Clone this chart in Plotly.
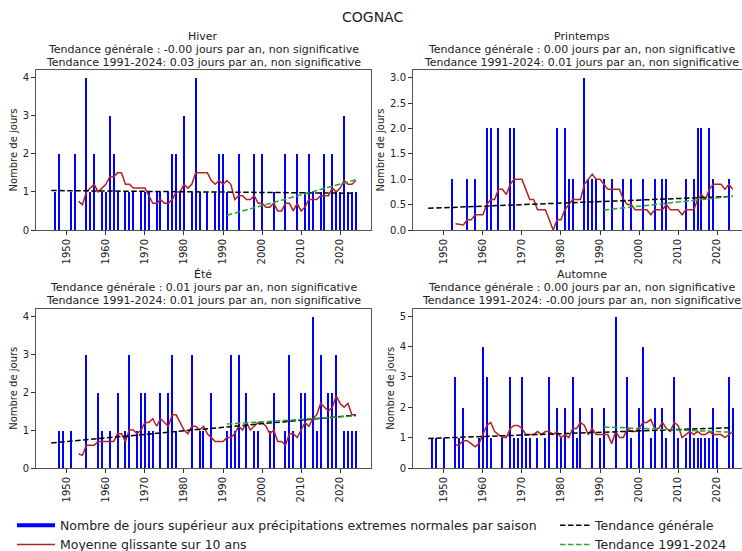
import numpy as np
import pandas as pd
import plotly.graph_objects as go

# ---------------- data ----------------
years = list(range(1946, 2025))

hiver_years = [1947, 1948, 1951, 1952, 1955, 1956, 1957, 1959, 1960, 1961, 1962, 1963, 1965, 1966, 1967,
               1969, 1970, 1971, 1973, 1974, 1976, 1977, 1978, 1979, 1980, 1982, 1983, 1984, 1986, 1988,
               1989, 1990, 1991, 1994, 1998, 2000, 2003, 2006, 2009, 2011, 2012, 2013, 2015, 2016,
               2018, 2019, 2020, 2021, 2022, 2023, 2024]
hiver_vals = [1, 2, 1, 2, 4, 1, 2, 1, 1, 3, 2, 1, 1, 1, 1,
              1, 1, 1, 1, 1, 1, 2, 2, 1, 3, 1, 4, 1, 1, 1,
              2, 2, 1, 2, 2, 2, 1, 2, 2, 1, 2, 1, 1, 2,
              2, 1, 1, 3, 1, 1, 1]

printemps_years = [1952, 1956, 1958, 1961, 1962, 1964, 1967, 1968, 1979, 1981, 1982, 1983, 1986, 1987, 1988,
                   1989, 1991, 1993, 1996, 1998, 2001, 2004, 2006, 2007, 2012, 2014, 2015, 2016, 2018, 2019,
                   2023]
printemps_vals = [1, 1, 1, 2, 2, 2, 2, 2, 2, 2, 1, 1, 3, 1, 1,
                  1, 1, 1, 1, 1, 1, 1, 1, 1, 1, 1, 2, 2, 2, 1,
                  1]

ete_years = [1948, 1949, 1951, 1955, 1958, 1959, 1961, 1963, 1965, 1966, 1968, 1969, 1970, 1971, 1972,
             1974, 1976, 1977, 1978, 1982, 1984, 1985, 1987, 1991, 1992, 1993, 1994, 1996, 1998, 1999,
             2002, 2003, 2006, 2007, 2008, 2010, 2011, 2013, 2014, 2015, 2017, 2018, 2019, 2021, 2022,
             2023, 2024]
ete_vals = [1, 1, 1, 3, 2, 1, 1, 2, 1, 3, 1, 2, 2, 1, 1,
            2, 2, 3, 1, 3, 1, 1, 2, 1, 3, 1, 3, 2, 1, 1,
            1, 2, 1, 3, 1, 2, 2, 4, 1, 3, 2, 2, 3, 1, 1,
            1, 1]

automne_years = [1947, 1948, 1950, 1953, 1954, 1955, 1959, 1960, 1961, 1962, 1965, 1967, 1968, 1969, 1970,
                 1971, 1972, 1974, 1976, 1977, 1979, 1980, 1981, 1983, 1984, 1985, 1988, 1990, 1991, 1994,
                 1997, 1998, 2000, 2001, 2003, 2004, 2006, 2007, 2009, 2010, 2012, 2013, 2014, 2015, 2016,
                 2017, 2018, 2019, 2020, 2023, 2024]
automne_vals = [1, 1, 1, 3, 1, 2, 1, 4, 3, 1, 1, 3, 1, 1, 3,
                1, 1, 1, 1, 3, 2, 1, 2, 3, 1, 2, 2, 1, 2, 5,
                3, 1, 2, 4, 1, 2, 2, 1, 3, 1, 1, 2, 1, 1, 1,
                1, 1, 2, 1, 3, 2]

season_titles = ["Hiver", "Printemps", "Été", "Automne"]
trend_all_text = ["-0.00", "0.00", "0.01", "0.00"]
trend_recent_text = ["0.03", "0.01", "0.01", "-0.00"]
y_max = [4, 3, 4, 5]

main_title = "COGNAC"
y_label = "Nombre de jours"
legend_bars = "Nombre de jours supérieur aux précipitations extremes normales par saison"
legend_roll = "Moyenne glissante sur 10 ans"
legend_trend = "Tendance générale"
legend_recent = "Tendance 1991-2024"
recent_start = 1991

# ---------------- figure ----------------
W, H = 742, 551
FONT = "DejaVu Sans"

series = [(hiver_years, hiver_vals), (printemps_years, printemps_vals),
          (ete_years, ete_vals), (automne_years, automne_vals)]

# axes boxes in pixels: (left, right, top, bottom)
boxes = [(36, 371, 70, 230), (413, 742, 70, 230),
         (36, 371, 308.5, 468), (413, 742, 308.5, 468)]
full_right = 750  # right plots are cut at the page edge
x0, x1 = 1942.1, 2027.9
px_per_year = (371 - 36) / (x1 - x0)

fig = go.Figure()
BLUE = "#0000ff"
RED = "#b22222"
GREEN = "#2ca02c"

for i, (yrs, vals) in enumerate(series):
    s = pd.Series(0.0, index=years)
    s.loc[yrs] = vals
    roll = s.rolling(10, min_periods=8).mean()
    ax_id = "" if i == 0 else str(i + 1)
    xa, ya = "x" + ax_id, "y" + ax_id

    fig.add_trace(go.Bar(x=yrs, y=vals, width=0.3, marker_color=BLUE, marker_line_width=0,
                         showlegend=False, xaxis=xa, yaxis=ya))
    fig.add_trace(go.Scatter(x=roll.index, y=roll.values, mode="lines",
                             line=dict(color=RED, width=1.5), name=legend_roll,
                             legend="legend", legendrank=2, showlegend=(i == 0),
                             xaxis=xa, yaxis=ya))
    xs = np.array(years, dtype=float)
    p = np.polyfit(xs, s.values, 1)
    fig.add_trace(go.Scatter(x=xs, y=np.polyval(p, xs), mode="lines",
                             line=dict(color="black", width=1.5, dash="5.5px,2.5px"),
                             name=legend_trend, legend="legend2", legendrank=1,
                             showlegend=(i == 0), xaxis=xa, yaxis=ya))
    xr = xs[xs >= recent_start]
    pr = np.polyfit(xr, s.loc[recent_start:].values, 1)
    fig.add_trace(go.Scatter(x=xr, y=np.polyval(pr, xr), mode="lines",
                             line=dict(color=GREEN, width=1.5, dash="5.5px,2.5px"),
                             name=legend_recent, legend="legend2", legendrank=2,
                             showlegend=(i == 0), xaxis=xa, yaxis=ya))

# legend-only entry for the bars (drawn as a thick line like the reference)
fig.add_trace(go.Scatter(x=[None], y=[None], mode="lines", line=dict(color=BLUE, width=4),
                         name=legend_bars, legend="legend", legendrank=1, showlegend=True))

layout = dict(width=W, height=H, margin=dict(l=0, r=0, t=0, b=0, autoexpand=False),
              paper_bgcolor="white", plot_bgcolor="white",
              font=dict(family=FONT, size=10, color="#222"), bargap=0)

annotations = []
for i, (l, r, t, b) in enumerate(boxes):
    ax_id = "" if i == 0 else str(i + 1)
    right_col = i % 2 == 1
    rng_hi = x0 + (r - l) / px_per_year
    layout["xaxis" + ax_id] = dict(
        domain=[l / W, r / W], range=[x0, rng_hi], anchor="y" + ax_id,
        tickmode="array", tickvals=list(range(1950, 2030, 10)), tickangle=-90,
        ticks="outside", ticklen=4, tickcolor="#333", showline=True, linecolor="#555",
        linewidth=1, mirror=True, showgrid=False, zeroline=False,
        tickfont=dict(size=10, color="#222"))
    ymax = y_max[i] * 1.05
    layout["yaxis" + ax_id] = dict(
        domain=[1 - b / H, 1 - t / H], range=[0, ymax], anchor="x" + ax_id,
        dtick=0.5 if i == 1 else 1, tickformat=".1f" if i == 1 else "d",
        ticks="outside", ticklen=4, tickcolor="#333", showline=True, linecolor="#555",
        linewidth=1, mirror=not right_col, showgrid=False, zeroline=False,
        title=dict(text=y_label, font=dict(size=10, color="#222"), standoff=3),
        tickfont=dict(size=10, color="#222"))
    cx = ((l + (full_right if right_col else r)) / 2) / W
    lines = [season_titles[i],
             "Tendance générale : %s jours par an, non significative" % trend_all_text[i],
             "Tendance 1991-2024: %s jours par an, non significative" % trend_recent_text[i]]
    for k, txt in enumerate(lines):
        ypx = t - 8 - (2 - k) * 13
        annotations.append(dict(text=txt, x=cx, y=1 - ypx / H, xref="paper", yref="paper",
                                xanchor="center", yanchor="middle", showarrow=False,
                                borderpad=0,
                                font=dict(size=11, color="#222", family=FONT)))

annotations.append(dict(text=main_title, x=372 / W, y=1 - 17 / H, xref="paper", yref="paper",
                        xanchor="center", yanchor="middle", showarrow=False,
                        font=dict(size=14, color="#222", family=FONT)))
layout["annotations"] = annotations

layout["legend"] = dict(x=12 / W, y=1 - 510.5 / H, xanchor="left", yanchor="top",
                        orientation="v", bgcolor="rgba(0,0,0,0)", borderwidth=0,
                        font=dict(size=12.5, color="#222", family=FONT), tracegroupgap=0,
                        itemwidth=38)
layout["legend2"] = dict(x=555 / W, y=1 - 510.5 / H, xanchor="left", yanchor="top",
                         orientation="v", bgcolor="rgba(0,0,0,0)", borderwidth=0,
                         font=dict(size=12.5, color="#222", family=FONT), tracegroupgap=0,
                         itemwidth=30)

fig.update_layout(**layout)
fig.write_html("out.html")
